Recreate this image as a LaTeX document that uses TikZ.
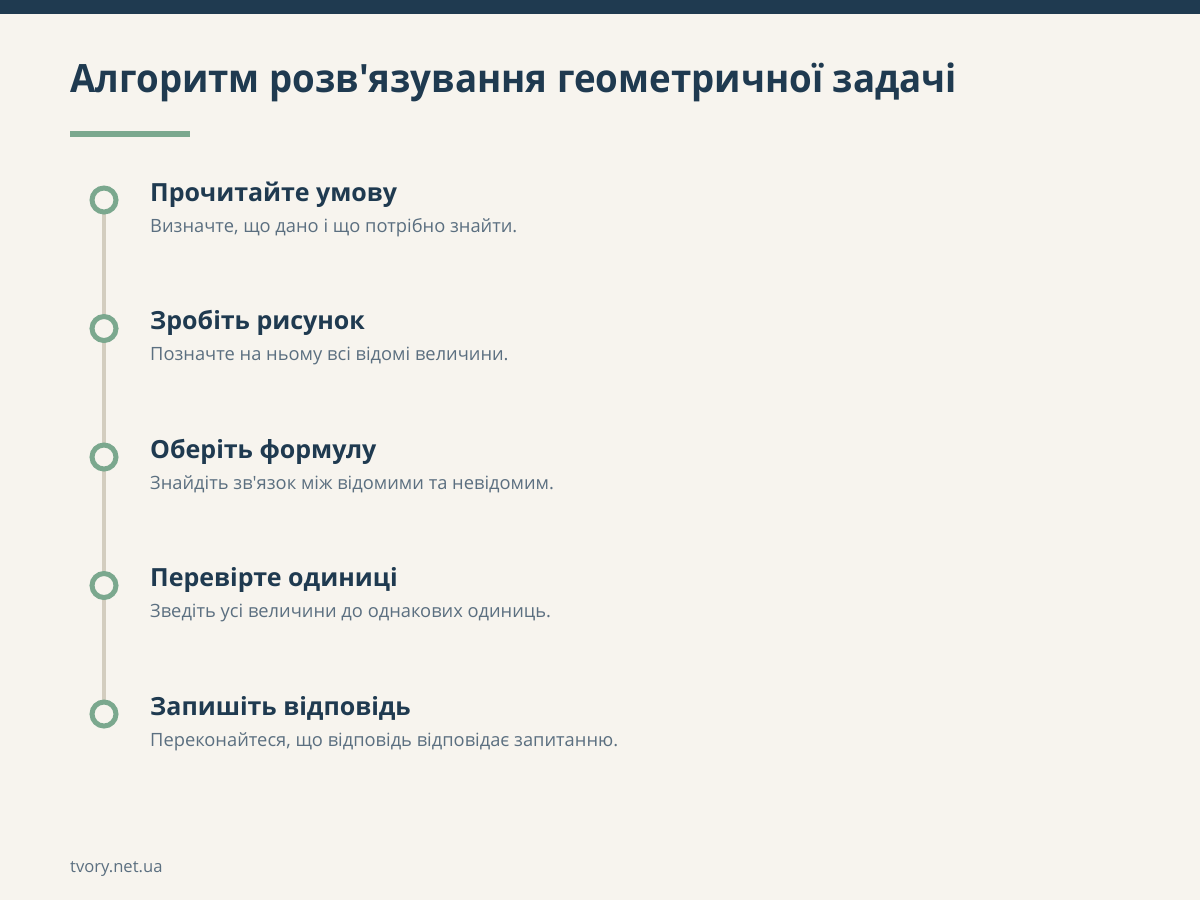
\documentclass[tikz,border=0pt]{standalone}
\usepackage{fontspec}
\usepackage{graphicx}
\setmainfont{Open Sans}[Ligatures=TeXOff]
\definecolor{bg}{HTML}{F7F4EE}
\definecolor{navy}{HTML}{1F3A50}
\definecolor{sage}{HTML}{7BA88E}
\definecolor{rail}{HTML}{D3CDBF}
\definecolor{muted}{HTML}{5B6F80}
\begin{document}
\begin{tikzpicture}[x=1pt,y=-1pt,
  head/.style={anchor=base west,inner sep=0,font=\fontsize{25}{30}\selectfont\bfseries,text=navy},
  desc/.style={anchor=base west,inner sep=0,font=\fontsize{18.3}{22}\selectfont,text=muted},
  dot/.style={circle,draw=sage,line width=5pt,fill=bg,minimum size=24pt,inner sep=0}]
\useasboundingbox (0,0) rectangle (1200,900);
\fill[bg] (0,0) rectangle (1200,900);
\fill[navy] (0,0) rectangle (1200,14);
\node[anchor=base west,inner sep=0,font=\fontsize{39}{44}\selectfont\bfseries,text=navy] (title) at (70,92) {\scalebox{0.94}[1]{Алгоритм розв'язування геометричної задачі}};
\fill[sage] (70,131) rectangle (190,137);
\coordinate (top) at (104,200);
\coordinate (bot) at (104,714);
\draw[rail,line width=4pt] (top) -- (bot);
\node[dot] (c1) at (104,200) {};
\node[dot] (c2) at (104,328.5) {};
\node[dot] (c3) at (104,457) {};
\node[dot] (c4) at (104,585.5) {};
\node[dot] (c5) at (104,714) {};
\node[head] (h1) at (150,201) {Прочитайте умову};
\node[desc] (d1) at (150,232) {Визначте, що дано і що потрібно знайти.};
\node[head] (h2) at (150,329.5) {Зробіть рисунок};
\node[desc] (d2) at (150,360.5) {Позначте на ньому всі відомі величини.};
\node[head] (h3) at (150,458) {Оберіть формулу};
\node[desc] (d3) at (150,489) {Знайдіть зв'язок між відомими та невідомим.};
\node[head] (h4) at (150,586.5) {Перевірте одиниці};
\node[desc] (d4) at (150,617.5) {Зведіть усі величини до однакових одиниць.};
\node[head] (h5) at (150,715) {Запишіть відповідь};
\node[desc] (d5) at (150,746) {Переконайтеся, що відповідь відповідає запитанню.};
\node[anchor=base west,inner sep=0,font=\fontsize{16.6}{20}\selectfont,text=muted] (foot) at (70,872) {tvory.net.ua};
\end{tikzpicture}
\end{document}
